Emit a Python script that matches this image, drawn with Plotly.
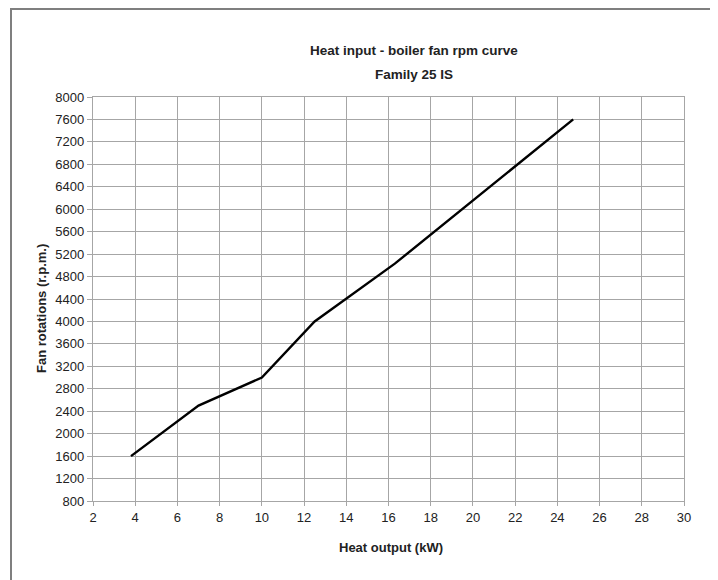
import plotly.graph_objects as go

# Data
heat_output_kw = [3.8, 5.2, 7.0, 10.0, 12.5, 16.3, 24.75]
fan_rpm = [1600, 2000, 2500, 3000, 4000, 5030, 7600]

x_ticks = list(range(2, 31, 2))
y_ticks = list(range(800, 8001, 400))

title_line1 = "Heat input - boiler fan rpm curve"
title_line2 = "Family 25 IS"
x_title = "Heat output (kW)"
y_title = "Fan rotations (r.p.m.)"

# The page body has an 8px margin, so the figure is drawn 8px smaller
# and every reference pixel position is shifted by that offset.
OFF = 8
W, H = 718 - OFF, 580 - OFF
L, T = 93 - OFF, 97 - OFF
R = 718 - 684
B = 580 - 501
PW, PH = W - L - R, H - T - B

def px(xp):
    return (xp - OFF - L) / PW

def py(yp):
    return (H - B - (yp - OFF)) / PH

bold_font = "Liberation Sans, Arial, sans-serif"
regular = "Liberation Sans, Arial, sans-serif"
grid_col = "#a6a6a6"
text_col = "#222222"

fig = go.Figure()
fig.add_trace(go.Scatter(
    x=heat_output_kw, y=fan_rpm, mode="lines",
    line=dict(color="black", width=2.4), showlegend=False,
))

fig.update_layout(
    width=W, height=H,
    margin=dict(l=L, r=R, t=T, b=B),
    paper_bgcolor="white", plot_bgcolor="white",
    xaxis=dict(
        range=[2, 30], tickvals=x_ticks, ticktext=[str(v) for v in x_ticks],
        showgrid=True, gridcolor=grid_col, gridwidth=1.3,
        showline=True, linecolor=grid_col, linewidth=1.3, mirror=True,
        ticks="outside", ticklen=4, tickcolor=grid_col,
        tickfont=dict(family=regular, size=13, color=text_col),
        zeroline=False,
    ),
    yaxis=dict(
        range=[800, 8000], tickvals=y_ticks, ticktext=[str(v) for v in y_ticks],
        showgrid=True, gridcolor=grid_col, gridwidth=1.3,
        showline=True, linecolor=grid_col, linewidth=1.3, mirror=True,
        ticks="outside", ticklen=5, tickcolor=grid_col,
        tickfont=dict(family=regular, size=13, color=text_col),
        zeroline=False,
    ),
)

ann_font = dict(family=bold_font, size=13.5, color=text_col)
fig.add_annotation(text="<b>" + title_line1 + "</b>", x=px(414), y=py(51),
                   xref="paper", yref="paper", showarrow=False,
                   xanchor="center", yanchor="middle", font=ann_font)
fig.add_annotation(text="<b>" + title_line2 + "</b>", x=px(414), y=py(75),
                   xref="paper", yref="paper", showarrow=False,
                   xanchor="center", yanchor="middle", font=ann_font)
fig.add_annotation(text="<b>" + x_title + "</b>", x=px(391), y=py(547),
                   xref="paper", yref="paper", showarrow=False,
                   xanchor="center", yanchor="middle",
                   font=dict(family=bold_font, size=13, color=text_col))
fig.add_annotation(text="<b>" + y_title + "</b>", x=px(41), y=py(309),
                   xref="paper", yref="paper", showarrow=False, textangle=-90,
                   xanchor="center", yanchor="middle",
                   font=dict(family=bold_font, size=13, color=text_col))

# Outer chart border
fig.add_shape(type="rect", xref="paper", yref="paper",
              x0=px(11), x1=px(711), y0=py(620), y1=py(9),
              line=dict(color="#7f7f7f", width=2), layer="below")

fig.write_html("out.html")
